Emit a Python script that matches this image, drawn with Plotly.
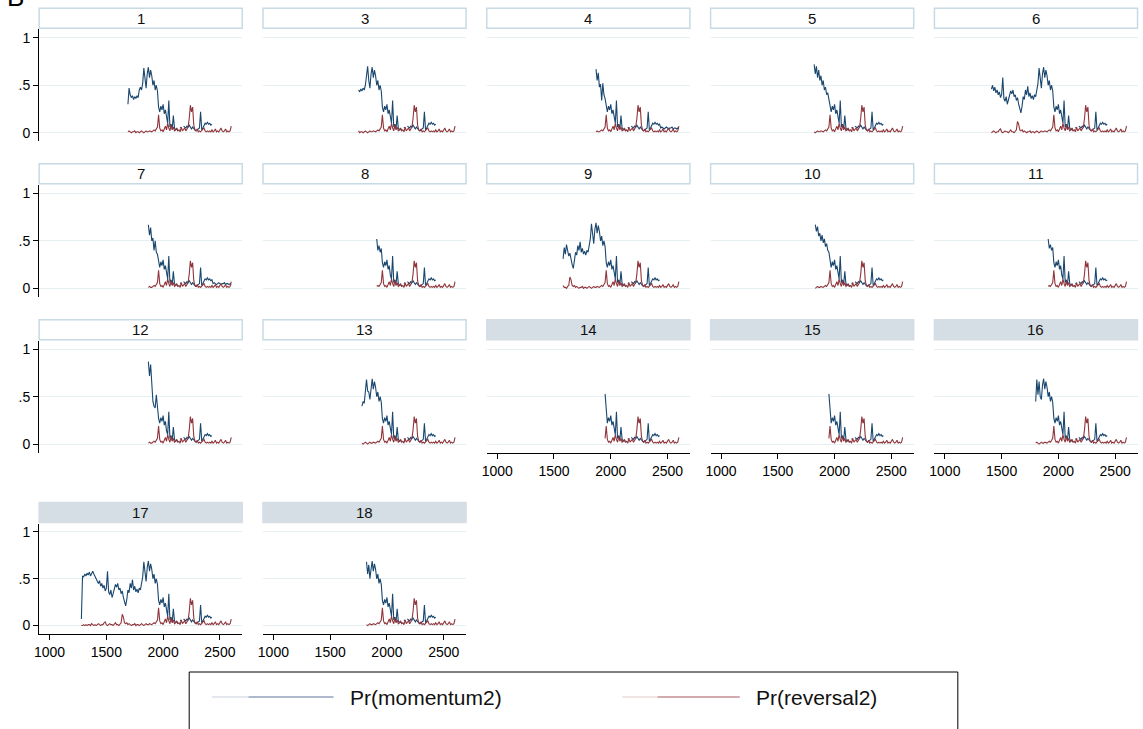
import plotly.graph_objects as go

# ---------------- data ----------------
T0 = 1280      # first time index of the base series
DT = 10        # spacing of the series

momentum_base = [
    0.07, 0.53, 0.52, 0.55, 0.53, 0.56, 0.54, 0.57, 0.53, 0.56,   # 1280-1370
    0.58, 0.55, 0.52, 0.50, 0.47, 0.45, 0.48, 0.42, 0.45, 0.40,   # 1380-1470
    0.43, 0.37, 0.40, 0.58, 0.36, 0.33, 0.38, 0.30, 0.34, 0.40,   # 1480-1570
    0.44, 0.41, 0.45, 0.38, 0.40, 0.34, 0.37, 0.30, 0.25, 0.21,   # 1580-1670
    0.28, 0.38, 0.35, 0.45, 0.40, 0.49, 0.38, 0.42, 0.36, 0.39,   # 1680-1770
    0.35, 0.40, 0.38, 0.45, 0.52, 0.68, 0.55, 0.47, 0.62, 0.69,   # 1780-1870
    0.58, 0.66, 0.60, 0.50, 0.55, 0.45, 0.50, 0.44, 0.27, 0.22,   # 1880-1970
    0.28, 0.24, 0.30, 0.20, 0.24, 0.14, 0.10, 0.34, 0.06, 0.09,   # 1980-2070
    0.04, 0.18, 0.05, 0.03, 0.04, 0.02, None, 0.05, 0.06, None,   # 2080-2170
    0.07, 0.06, 0.05, 0.07, 0.06, 0.08, 0.05, 0.04, 0.06, 0.04,   # 2180-2270
    0.03, 0.02, 0.03, 0.04, 0.05, 0.22, 0.03, 0.05, 0.07, 0.10,   # 2280-2370
    0.09, 0.11, 0.09, 0.10, 0.08, 0.09,                           # 2380-2430
]

reversal_base = [
    0.00, 0.00, 0.01, 0.00, 0.01, 0.00, 0.01, 0.01, 0.00, 0.02,   # 1280-1370
    0.01, 0.00, 0.01, 0.00, 0.01, 0.02, 0.01, 0.00, 0.01, 0.01,   # 1380-1470
    0.03, 0.04, 0.01, 0.00, 0.01, 0.02, 0.01, 0.01, 0.00, 0.01,   # 1480-1570
    0.03, 0.01, 0.01, 0.00, 0.02, 0.03, 0.12, 0.09, 0.03, 0.02,   # 1580-1670
    0.03, 0.01, 0.02, 0.01, 0.00, 0.01, 0.01, 0.02, 0.00, 0.01,   # 1680-1770
    0.01, 0.00, 0.01, 0.02, 0.01, 0.00, 0.01, 0.02, 0.01, 0.01,   # 1780-1870
    0.02, 0.01, 0.01, 0.02, 0.03, 0.02, 0.04, 0.06, 0.19, 0.05,   # 1880-1970
    0.02, 0.03, 0.01, 0.04, 0.07, 0.03, 0.10, 0.05, 0.02, 0.08,   # 1980-2070
    0.03, 0.06, 0.02, 0.03, 0.05, 0.02, 0.03, 0.01, 0.06, 0.02,   # 2080-2170
    0.03, 0.05, 0.02, 0.04, 0.06, 0.15, 0.29, 0.22, 0.27, 0.08,   # 2180-2270
    0.03, 0.02, 0.04, 0.01, 0.02, 0.01, 0.02, 0.03, 0.05, 0.02,   # 2280-2370
    0.01, 0.02, 0.01, 0.02, 0.01, 0.03, 0.01, 0.02, 0.04, 0.01,   # 2380-2470
    0.02, 0.01, 0.03, 0.05, 0.02, 0.01, 0.02, 0.04, 0.01, 0.02,   # 2480-2570
    0.01, 0.02, 0.07,                                             # 2580-2600
]

# momentum values continuing after 2430 (panels 4 and 7 only)
momentum_tail = [0.05, 0.06, 0.05, 0.04, 0.05, 0.06, 0.05, 0.04, 0.05,
                 0.05, 0.06, 0.04, 0.05, 0.05, 0.04, 0.05, 0.04]
tail_panels = ["4", "7"]

panels = ["1", "3", "4", "5", "6", "7", "8", "9", "10", "11",
          "12", "13", "14", "15", "16", "17", "18"]
panel_start = [1690, 1750, 1870, 1820, 1410, 1870, 1910, 1580, 1830, 1910,
               1870, 1780, 1950, 1950, 1800, 1280, 1820]
# first momentum values of each panel (they differ from the shared base)
panel_head = {
    "1": [0.30, 0.47, 0.40, 0.37, 0.39, 0.35, 0.38, 0.36, 0.39, 0.37, 0.45, 0.48],
    "3": [0.45, 0.43, 0.46, 0.44, 0.47, 0.45, 0.50, 0.62, 0.70, 0.55],
    "4": [0.67, 0.55, 0.63, 0.48, 0.51, 0.34, 0.52, 0.40, 0.36],
    "5": [0.72, 0.62, 0.70, 0.58, 0.66, 0.55, 0.60, 0.50, 0.55, 0.45, 0.48, 0.40, 0.42, 0.36],
    "6": [0.46, 0.50, 0.44, 0.48, 0.42],
    "7": [0.67, 0.56, 0.64, 0.50, 0.53, 0.40, 0.50, 0.38, 0.36],
    "8": [0.52, 0.40, 0.45, 0.38, 0.42],
    "9": [0.31, 0.43, 0.36, 0.46],
    "10": [0.67, 0.60, 0.65, 0.55, 0.58, 0.50, 0.56, 0.48, 0.52, 0.44, 0.47, 0.40, 0.38],
    "11": [0.52, 0.42, 0.46, 0.40, 0.43],
    "12": [0.87, 0.72, 0.84, 0.55, 0.45, 0.40, 0.38, 0.52, 0.36],
    "13": [0.40, 0.45, 0.43, 0.55, 0.68, 0.56],
    "14": [0.53, 0.40],
    "15": [0.53, 0.40],
    "16": [0.45, 0.68, 0.52, 0.66, 0.50],
    "17": [],
    "18": [0.68, 0.55, 0.65, 0.50, 0.60],
}
shaded_panels = ["14", "15", "16", "17", "18"]

x_ticks = [1000, 1500, 2000, 2500]
y_ticks = [0, 0.5, 1]
y_tick_text = ["0", ".5", "1"]
series_names = ["Pr(momentum2)", "Pr(reversal2)"]

# ---------------- styling / geometry ----------------
W, H = 1143, 729
NAVY = "#1a476f"
MAROON = "#90353b"
FONT = "Liberation Sans, Arial, Helvetica, sans-serif"
COL_LEFT0, COL_STEP, PANEL_W = 34.3, 224.8, 204.0
ROWS = [(29.2, 141.3), (184.8, 296.9), (340.8, 452.6), (523.5, 634.0)]
XR = [908, 2697]
YR = [-0.09, 1.09]
NCOL = 5

fig = go.Figure()
shapes = []
annotations = []
layout_axes = {}

# bottom-most panel in each column gets the x axis
bottom_of_col = {}
for k in range(len(panels)):
    bottom_of_col[k % NCOL] = k

for k, lab in enumerate(panels):
    r, c = divmod(k, NCOL)
    left = COL_LEFT0 + COL_STEP * c
    right = left + PANEL_W
    top, bot = ROWS[r]
    xd = [left / W, right / W]
    yd = [1 - bot / H, 1 - top / H]
    ax = "" if k == 0 else str(k + 1)

    i0 = (panel_start[k] - T0) // DT
    nm = len(momentum_base)
    xm = [T0 + DT * i for i in range(i0, nm)]
    ym = list(momentum_base[i0:])
    head = panel_head[lab]
    ym[:len(head)] = head
    if lab in tail_panels:
        xm += [T0 + DT * (nm + j) for j in range(len(momentum_tail))]
        ym += momentum_tail
    xr = [T0 + DT * i for i in range(i0, len(reversal_base))]
    yr = list(reversal_base[i0:])

    fig.add_trace(go.Scatter(x=xm, y=ym, mode="lines", name=series_names[0],
                             line=dict(color=NAVY, width=1.1), showlegend=False,
                             xaxis="x" + ax, yaxis="y" + ax))
    fig.add_trace(go.Scatter(x=xr, y=yr, mode="lines", name=series_names[1],
                             line=dict(color=MAROON, width=1.1), showlegend=False,
                             xaxis="x" + ax, yaxis="y" + ax))

    show_x = bottom_of_col[c] == k
    show_y = c == 0
    layout_axes["xaxis" + ax] = dict(
        domain=xd, range=XR, anchor="y" + ax, showgrid=False, zeroline=False,
        tickvals=x_ticks, showticklabels=show_x, ticks="outside" if show_x else "",
        ticklen=5, tickwidth=1.2, tickcolor="black", showline=show_x,
        linecolor="black", linewidth=1.3,
        tickfont=dict(family=FONT, size=14, color="black"))
    layout_axes["yaxis" + ax] = dict(
        domain=yd, range=YR, anchor="x" + ax, showgrid=True, gridcolor="#e6eff1",
        gridwidth=1, zeroline=False, tickvals=y_ticks, ticktext=y_tick_text,
        showticklabels=show_y, ticks="outside" if show_y else "", ticklen=5,
        tickwidth=1.2, tickcolor="black", showline=show_y, linecolor="black",
        linewidth=1.3, tickfont=dict(family=FONT, size=14, color="black"))

    # panel header
    shaded = lab in shaded_panels
    shapes.append(dict(type="rect", xref="paper", yref="paper",
                       x0=left / W, x1=right / W,
                       y0=1 - (top - 1) / H, y1=1 - (top - 21) / H,
                       fillcolor="#d5dde5" if shaded else "white",
                       line=dict(color="#d5dde5" if shaded else "#c8dae3", width=1.5),
                       layer="below"))
    annotations.append(dict(text=lab, xref="paper", yref="paper",
                            x=(left + right) / 2 / W, y=1 - (top - 11) / H,
                            showarrow=False, xanchor="center", yanchor="middle",
                            font=dict(family=FONT, size=15, color="#111111")))

# legend drawn as a box with line samples and labels
LEG = dict(x0=185, x1=957, y0=672, y1=740)
shapes.append(dict(type="rect", xref="paper", yref="paper",
                   x0=LEG["x0"] / W, x1=LEG["x1"] / W,
                   y0=1 - LEG["y1"] / H, y1=1 - LEG["y0"] / H,
                   line=dict(color="black", width=1), fillcolor="white", layer="below"))
legend_items = [(208, 330, 345, "#c9d0dd", "#61749c"),
                (620, 738, 752, "#e2c9cb", "#a8585e")]
for (lx0, lx1, tx, clight, cdark), name in zip(legend_items, series_names):
    ly = 1 - 697 / H
    mid = lx0 + (lx1 - lx0) * 0.3
    shapes.append(dict(type="line", xref="paper", yref="paper", x0=lx0 / W, x1=mid / W,
                       y0=ly, y1=ly, line=dict(color=clight, width=1.2)))
    shapes.append(dict(type="line", xref="paper", yref="paper", x0=mid / W, x1=lx1 / W,
                       y0=ly, y1=ly, line=dict(color=cdark, width=1.2)))
    annotations.append(dict(text=name, xref="paper", yref="paper", x=tx / W, y=ly,
                            showarrow=False, xanchor="left", yanchor="middle",
                            font=dict(family=FONT, size=21, color="#111111")))

# panel letter at the top-left (cut off at the top edge in the original)
annotations.append(dict(text="B", xref="paper", yref="paper", x=0, y=1 - 14 / H,
                        showarrow=False, xanchor="left", yanchor="bottom",
                        font=dict(family=FONT, size=26, color="black")))

fig.update_layout(width=W, height=H, margin=dict(l=0, r=0, t=0, b=0),
                  paper_bgcolor="white", plot_bgcolor="white",
                  shapes=shapes, annotations=annotations, showlegend=False,
                  hovermode=False, **layout_axes)
fig.write_html("out.html", config={"displayModeBar": False},
               post_script="document.body.style.margin='0px';"
                           "document.body.style.overflow='hidden';")
